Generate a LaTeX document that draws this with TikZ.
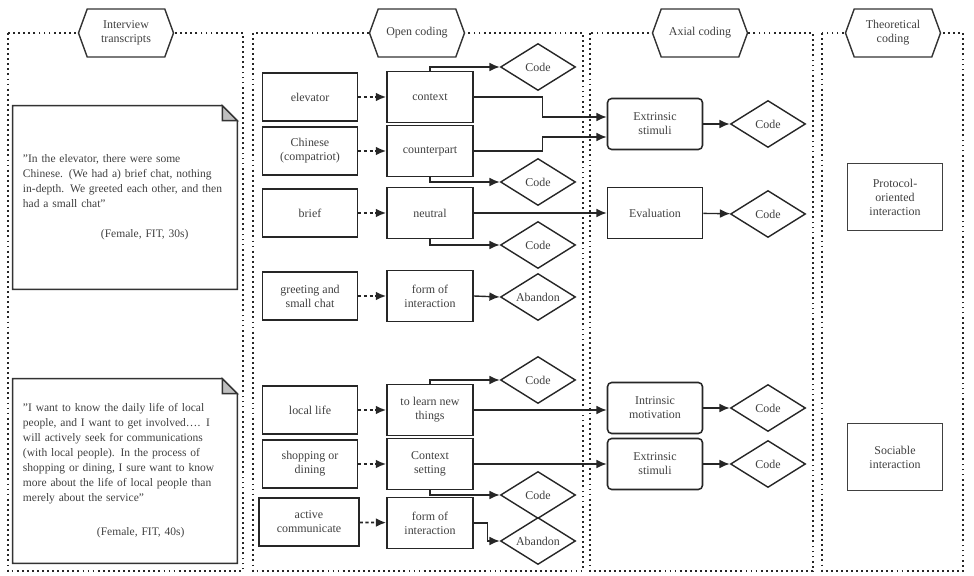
\documentclass[tikz,border=0pt]{standalone}
\usepackage{fontspec}
\setmainfont{Liberation Serif}
\usetikzlibrary{positioning, arrows.meta, calc, shapes.geometric, shapes.symbols}

\begin{document}
\begin{tikzpicture}[
        x=0.025cm, y=-0.025cm,
        font=\rmfamily\fontsize{8.5}{10}\selectfont,
        % --- styles ---
        % 1. dotted frame around each coding stage
        stageframe/.style={
                draw=black!85,
                line width=1.3pt,
                dash pattern=on 1.3pt off 2.3pt
            },
        % 2. hexagon title sitting on the frame
        stagetitle/.style={
                shape=signal,
                signal to=east and west,
                signal pointer angle=140,
                draw=black!80,
                line width=1pt,
                fill=white,
                text=black!75,
                align=center,
                minimum width=2.375cm,
                minimum height=1.2cm,
                inner sep=1pt
            },
        % 3. interview quote (outline with folded corner drawn afterwards)
        quotenote/.style={
                text=black!75,
                align=left,
                font=\rmfamily\fontsize{8.2}{10.6}\selectfont,
                text width=5.1cm,
                inner xsep=0.25cm,
                minimum width=5.6cm
            },
        notefold/.style={draw=black!80, line width=1pt},
        % 4. boxes of the coding steps
        concept/.style={
                draw=black!85,
                line width=1.1pt,
                text=black!75,
                align=center,
                minimum width=2.375cm,
                minimum height=1.2cm,
                inner sep=2pt
            },
        opencode/.style={concept, minimum width=2.15cm, minimum height=1.27cm},
        category/.style={concept, minimum height=1.275cm},
        softcategory/.style={category, rounded corners=3pt},
        theory/.style={concept, draw=black!75, minimum height=1.675cm},
        decision/.style={
                diamond,
                aspect=1.6,
                draw=black!85,
                line width=1pt,
                text=black!75,
                minimum width=1.875cm,
                minimum height=1.175cm,
                inner sep=0pt
            },
        % 5. connectors
        codelink/.style={draw=black!85, line width=1pt, -{Latex[length=2.6mm, width=2.2mm]}},
        dashlink/.style={codelink, line width=1.3pt, dash pattern=on 2.2pt off 1.8pt}
    ]

    \useasboundingbox (0,0) rectangle (974,576);

    % Stage frames
    \draw[stageframe] (8,33) rectangle (243,571);
    \draw[stageframe] (253,33) rectangle (583,571);
    \draw[stageframe] (590,33) rectangle (813,571);
    \draw[stageframe] (822,33) rectangle (963,571);

    \node[stagetitle] (interview) at (126,33) {Interview\\transcripts};
    \node[stagetitle] (open) at (417,33) {Open coding};
    \node[stagetitle] (axial) at (700,33) {Axial coding};
    \node[stagetitle] (theoretical) at (893,33) {Theoretical\\coding};

    % Quotes
    \node[quotenote, minimum height=4.575cm] (quoteA) at (125,197.5) {
        \symbol{34}In the elevator, there were some\\
        Chinese. (We had a) brief chat, nothing\\
        in-depth. We greeted each other, and then\\
        had a small chat\symbol{34}\\[11pt]
        \hspace*{1.95cm}(Female, FIT, 30s)
    };
    \node[quotenote, minimum height=4.6cm] (quoteB) at (125,471) {
        \symbol{34}I want to know the daily life of local\\
        people, and I want to get involved…. I\\
        will actively seek for communications\\
        (with local people). In the process of\\
        shopping or dining, I sure want to know\\
        more about the life of local people than\\
        merely about the service\symbol{34}\\[14pt]
        \hspace*{1.85cm}(Female, FIT, 40s)
    };
    \foreach \q in {quoteA, quoteB} {
        \draw[notefold] (\q.north west) -- ($(\q.north east)+(-15,0)$)
            -- ($(\q.north east)+(0,15)$) -- (\q.south east) -- (\q.south west) -- cycle;
        \filldraw[notefold, fill=black!25] ($(\q.north east)+(-15,0)$)
            -- ($(\q.north east)+(-15,15)$) -- ($(\q.north east)+(0,15)$) -- cycle;
    }

    % --- Open coding, first quote ---
    \node[concept] (elevator) at (310,97) {elevator};
    \node[concept] (chinese) at (310,151) {Chinese\\(compatriot)};
    \node[concept] (brief) at (310,213) {brief};
    \node[concept] (greeting) at (310,296) {greeting and\\small chat};

    \node[opencode] (context) at (430,97) {context};
    \node[opencode] (counterpart) at (430,151) {counterpart};
    \node[opencode] (neutral) at (430,213) {neutral};
    \node[opencode] (formA) at (430,296) {form of\\interaction};

    \node[decision] (codeA) at (538,67) {Code};
    \node[decision] (codeB) at (538,182) {Code};
    \node[decision] (codeC) at (538,245) {Code};
    \node[decision] (abandonA) at (538,297) {Abandon};

    % --- Open coding, second quote ---
    \node[concept] (locallife) at (310,410) {local life};
    \node[concept] (shopping) at (310,464) {shopping or\\dining};
    \node[concept, minimum width=2.5cm] (active) at (309,522) {active\\communicate};

    \node[opencode] (learn) at (430,410) {to learn new\\things};
    \node[opencode] (setting) at (430,464) {Context\\setting};
    \node[opencode] (formB) at (430,523) {form of\\interaction};

    \node[decision] (codeD) at (538,380) {Code};
    \node[decision] (codeE) at (538,495) {Code};
    \node[decision] (abandonB) at (538,541) {Abandon};

    % --- Axial coding ---
    \node[softcategory] (extrA) at (655,124) {Extrinsic\\stimuli};
    \node[category] (evaluation) at (655,213) {Evaluation};
    \node[softcategory] (intrB) at (655,408) {Intrinsic\\motivation};
    \node[softcategory] (extrB) at (655,464) {Extrinsic\\stimuli};

    \node[decision] (axcodeA) at (768,124) {Code};
    \node[decision] (axcodeB) at (768,214) {Code};
    \node[decision] (axcodeC) at (768,408) {Code};
    \node[decision] (axcodeD) at (768,464) {Code};

    % --- Theoretical coding ---
    \node[theory] (protocol) at (895,197) {Protocol-\\oriented\\interaction};
    \node[theory] (sociable) at (895,457) {Sociable\\interaction};

    % Labels to open codes
    \foreach \a/\b in {elevator/context, chinese/counterpart, brief/neutral,
            greeting/formA, locallife/learn, shopping/setting, active/formB}
        \draw[dashlink] (\a) -- (\b);

    % Open codes onwards
    \draw[codelink] (context.north) |- (codeA.west);
    \draw[codelink] (context.east) -- ++(69,0) |- ($(extrA.west)+(0,-7)$);
    \draw[codelink] (counterpart.east) -- ++(69,0) |- ($(extrA.west)+(0,13)$);
    \draw[codelink] (counterpart.south) |- (codeB.west);
    \draw[codelink] (neutral.east) -- (evaluation.west);
    \draw[codelink] (neutral.south) |- (codeC.west);
    \draw[codelink] (formA.east) -- (abandonA.west);

    \draw[codelink] (learn.north) |- (codeD.west);
    \draw[codelink] (learn.east) -- (learn.east -| intrB.west);
    \draw[codelink] (setting.east) -- (setting.east -| extrB.west);
    \draw[codelink] (setting.south) |- (codeE.west);
    \draw[codelink] (formB.east) -- ++(14,0) |- (abandonB.west);

    % Categories to codes
    \foreach \a/\b in {extrA/axcodeA, evaluation/axcodeB, intrB/axcodeC, extrB/axcodeD}
        \draw[codelink] (\a) -- (\b);

\end{tikzpicture}
\end{document}
